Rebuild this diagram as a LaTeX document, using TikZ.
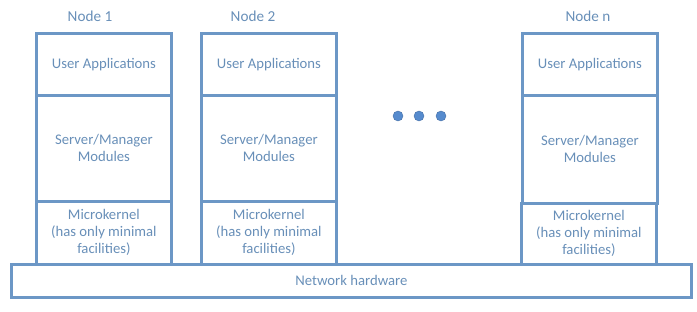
\documentclass[tikz,border=0pt]{standalone}
\usepackage{fontspec}
\setmainfont{Carlito}
\usetikzlibrary{positioning}

\definecolor{layerblue}{RGB}{108,151,198}
\definecolor{textblue}{RGB}{104,143,184}
\definecolor{dotblue}{RGB}{86,139,206}

\tikzset{
  layer/.style={draw=layerblue, line width=2.8pt, anchor=north west,
    minimum width=135pt, align=center, text=textblue, inner sep=0pt,
    font=\fontsize{14.7}{17}\selectfont},
  nodetitle/.style={text=textblue, font=\fontsize{15.2}{17}\selectfont},
  bigdot/.style={circle, fill=dotblue, draw=dotblue!80!black, line width=0.4pt,
    minimum size=10pt, inner sep=0pt}
}

\begin{document}
\begin{tikzpicture}[x=1pt,y=-1pt]
    % Marco de la figura
    \useasboundingbox (0,0) rectangle (697,312);

    % Columna del nodo 1
    \node[nodetitle] (t1) at (90,16) {Node 1};
    \node[layer, minimum height=62pt]  (ua1) at (35,32)  {User Applications};
    \node[layer, minimum height=106pt] (sm1) at (35,94)  {Server/Manager\\Modules};
    \node[layer, minimum height=63pt]  (mk1) at (35,200) {Microkernel\\(has only minimal\\facilities)};

    % Columna del nodo 2
    \node[nodetitle] (t2) at (253,16) {Node 2};
    \node[layer, minimum height=62pt]  (ua2) at (200,32)  {User Applications};
    \node[layer, minimum height=106pt] (sm2) at (200,94)  {Server/Manager\\Modules};
    \node[layer, minimum height=63pt]  (mk2) at (200,200) {Microkernel\\(has only minimal\\facilities)};

    % Puntos suspensivos
    \node[bigdot] (d1) at (398,116) {};
    \node[bigdot] (d2) at (419,116) {};
    \node[bigdot] (d3) at (441,116) {};

    % Columna del nodo n
    \node[nodetitle] (tn) at (588,16) {Node n};
    \node[layer, minimum height=62pt]  (uan) at (521,32)  {User Applications};
    \node[layer, minimum height=108pt] (smn) at (521,94)  {Server/Manager\\Modules};
    \node[layer, minimum height=61pt]  (mkn) at (520,202) {Microkernel\\(has only minimal\\facilities)};

    % Hardware de red
    \node[layer, minimum width=680pt, minimum height=33pt] (net) at (10,263) {Network hardware};
\end{tikzpicture}
\end{document}
